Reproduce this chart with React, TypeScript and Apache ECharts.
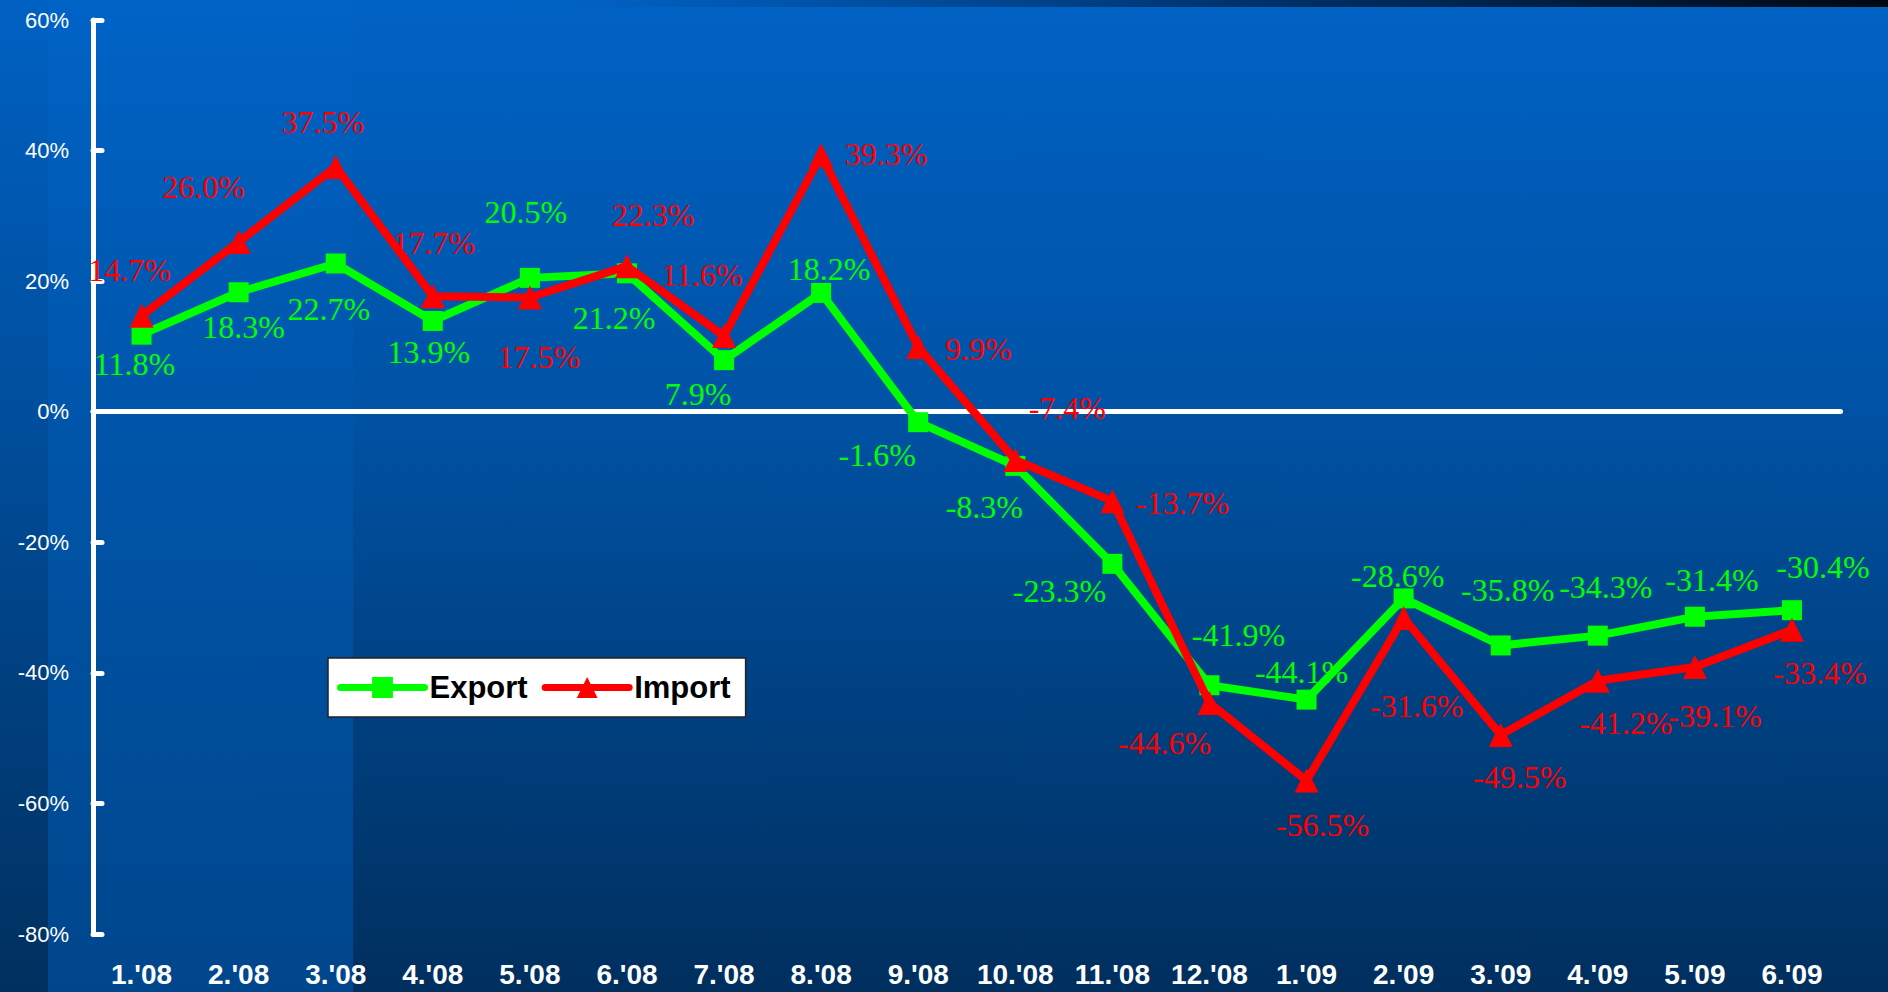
import React, { useEffect, useRef } from "react";
import * as echarts from "echarts";

const categories = ["1.'08", "2.'08", "3.'08", "4.'08", "5.'08", "6.'08", "7.'08", "8.'08", "9.'08", "10.'08", "11.'08", "12.'08", "1.'09", "2.'09", "3.'09", "4.'09", "5.'09", "6.'09"];
const exportValues = [11.8, 18.3, 22.7, 13.9, 20.5, 21.2, 7.9, 18.2, -1.6, -8.3, -23.3, -41.9, -44.1, -28.6, -35.8, -34.3, -31.4, -30.4];
const importValues = [14.7, 26.0, 37.5, 17.7, 17.5, 22.3, 11.6, 39.3, 9.9, -7.4, -13.7, -44.6, -56.5, -31.6, -49.5, -41.2, -39.1, -33.4];

// label placement (pixel offsets from each point), kept apart from the data
const exportLabelOffsets = [[-7, 29], [5, 35], [-7, 45], [-4, 31], [-4, -66], [-13, 45], [-26, 34], [8, -24], [-41, 33], [-31, 41], [-53, 27], [29, -50], [-5, -28], [-6, -22], [7, -55], [8, -49], [17, -37], [31, -43]];
const importLabelOffsets = [[-12, -46], [-35, -55], [-13, -45], [1, -53], [9, 60], [26, -51], [-22, -61], [65, -1], [60, 2], [52, -52], [70, 2], [-45, 40], [16, 44], [13, 88], [19, 42], [28, 42], [20, 49], [28, 43]];

const GREEN = "#00FF00";
const RED = "#FF0000";

export default function App() {
  const ref = useRef<HTMLDivElement>(null);
  useEffect(() => {
    if (!ref.current) return;
    const chart = echarts.init(ref.current, null, { renderer: "svg" });
    const fmt = (p: any) => Number(p.value).toFixed(1) + "%";
    const labelBase = {
      show: true,
      position: "inside",
      fontFamily: "Liberation Serif, Times New Roman, serif",
      fontSize: 32,
      formatter: fmt,
    };
    chart.setOption({
      animation: false,
      backgroundColor: {
        type: "linear", x: 0, y: 0, x2: 0, y2: 1,
        colorStops: [
          { offset: 0, color: "#0062C4" },
          { offset: 0.4, color: "#0053A6" },
          { offset: 1, color: "#002F5E" },
        ],
      },
      graphic: [
        {
          type: "rect", z: -10, silent: true,
          shape: { x: 0, y: 0, width: 48, height: 992 },
          style: {
            fill: {
              type: "linear", x: 0, y: 0, x2: 0, y2: 1,
              colorStops: [
                { offset: 0, color: "#0061C2" },
                { offset: 0.4, color: "#004F9E" },
                { offset: 1, color: "#00305F" },
              ],
            },
          },
        },
        {
          type: "rect", z: -10, silent: true,
          shape: { x: 48, y: 0, width: 305, height: 992 },
          style: {
            fill: {
              type: "linear", x: 0, y: 0, x2: 0, y2: 1,
              colorStops: [
                { offset: 0, color: "#0063C6" },
                { offset: 0.4, color: "#0056AB" },
                { offset: 1, color: "#00468C" },
              ],
            },
          },
        },
        {
          type: "rect", z: -10, silent: true,
          shape: { x: 560, y: 0, width: 1328, height: 7 },
          style: {
            fill: {
              type: "linear", x: 0, y: 0, x2: 1, y2: 0,
              colorStops: [
                { offset: 0, color: "rgba(0,60,130,0)" },
                { offset: 0.5, color: "#00346F" },
                { offset: 1, color: "#000812" },
              ],
            },
          },
        },
      ],
      grid: { left: 93, right: 47.5, top: 20, bottom: 58, containLabel: false },
      legend: {
        left: 328,
        top: 658,
        orient: "horizontal",
        backgroundColor: "#FFFFFF",
        borderColor: "#222222",
        borderWidth: 1.5,
        borderRadius: 0,
        padding: [14, 15, 14, 9],
        itemWidth: 84,
        itemHeight: 26,
        itemGap: 14,
        lineStyle: { width: 7, cap: "round" },
        textStyle: {
          color: "#000000",
          fontFamily: "Liberation Sans, Arial, sans-serif",
          fontWeight: "bold",
          fontSize: 31,
        },
        data: ["Export", "Import"],
      },
      xAxis: {
        type: "category",
        data: categories,
        boundaryGap: true,
        axisLine: { show: false },
        axisTick: { show: false },
        splitLine: { show: false },
        axisLabel: {
          color: "#FFFFFF",
          fontFamily: "Liberation Sans, Arial, sans-serif",
          fontWeight: "bold",
          fontSize: 28,
          margin: 26,
          interval: 0,
        },
      },
      yAxis: {
        type: "value",
        min: -80,
        max: 60,
        interval: 20,
        axisLine: { show: true, lineStyle: { color: "#FFFFFF", width: 5, cap: "round" } },
        axisTick: { show: true, inside: true, length: 9, lineStyle: { color: "#FFFFFF", width: 5, cap: "round" } },
        splitLine: { show: false },
        axisLabel: {
          color: "#FFFFFF",
          fontFamily: "Liberation Sans, Arial, sans-serif",
          fontSize: 22,
          margin: 24,
          formatter: "{value}%",
        },
      },
      series: [
        {
          name: "Export",
          type: "line",
          data: exportValues.map((v, i) => ({
            value: v,
            label: { offset: exportLabelOffsets[i] },
          })),
          symbol: "rect",
          symbolSize: 20,
          showAllSymbol: true,
          lineStyle: { color: GREEN, width: 8 },
          itemStyle: { color: GREEN },
          label: { ...labelBase, color: GREEN },
          z: 3,
          markLine: {
            silent: true,
            symbol: "none",
            label: { show: false },
            lineStyle: { color: "#FFFFFF", width: 5, type: "solid", cap: "round" },
            data: [{ yAxis: 0 }],
            z: 1,
          },
        },
        {
          name: "Import",
          type: "line",
          data: importValues.map((v, i) => ({
            value: v,
            label: { offset: importLabelOffsets[i] },
          })),
          symbol: "triangle",
          symbolSize: 24,
          showAllSymbol: true,
          lineStyle: { color: RED, width: 8 },
          itemStyle: { color: RED },
          label: { ...labelBase, color: RED },
          z: 4,
        },
      ],
    });
    return () => chart.dispose();
  }, []);
  return (
    <div
      ref={ref}
      style={{ position: "fixed", left: 0, top: 0, width: 1888, height: 992 }}
    />
  );
}
